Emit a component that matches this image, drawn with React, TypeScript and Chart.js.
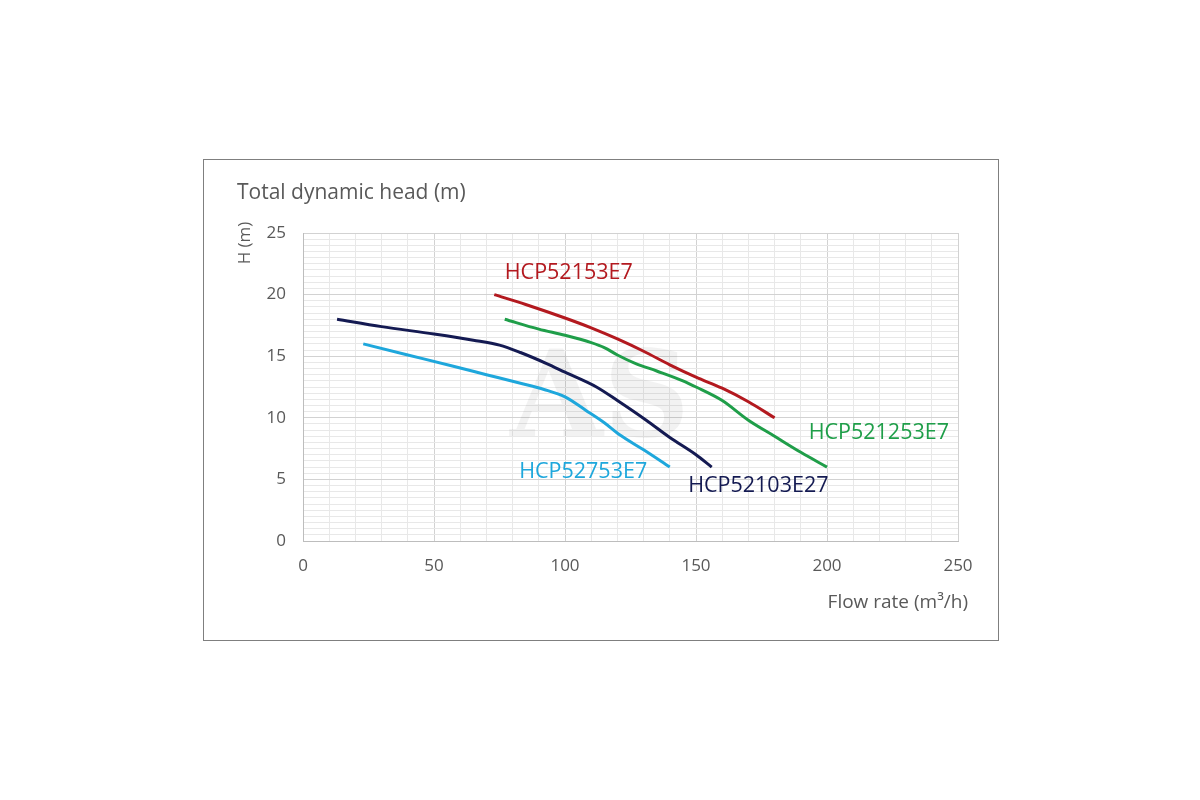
import { Chart, registerables, Plugin } from "chart.js";
import { useEffect, useRef } from "react";

Chart.register(...registerables);

// pump curves, flow (m3/h) vs head (m)
const redFlow = [73, 85, 100, 110, 120, 130, 140, 150, 160, 170, 180];
const redHead = [20, 19.2, 18.1, 17.3, 16.4, 15.4, 14.3, 13.3, 12.4, 11.3, 10];

const greenFlow = [77, 90, 100, 110, 115, 120, 127, 135, 145, 150, 160, 170, 180, 190, 200];
const greenHead = [18, 17.2, 16.7, 16.1, 15.7, 15.1, 14.4, 13.8, 13, 12.5, 11.4, 9.8, 8.5, 7.2, 6];

const navyFlow = [13, 30, 50, 65, 75, 83, 93, 100, 112, 120, 131, 140, 150, 156];
const navyHead = [18, 17.4, 16.8, 16.3, 15.9, 15.3, 14.4, 13.7, 12.5, 11.4, 9.8, 8.4, 7, 6];

const cyanFlow = [23, 40, 57, 70, 83, 92, 100, 108, 115, 121, 130, 140];
const cyanHead = [16, 15.1, 14.2, 13.5, 12.8, 12.3, 11.7, 10.6, 9.6, 8.6, 7.4, 6];

const seriesNames = ["HCP52153E7", "HCP521253E7", "HCP52103E27", "HCP52753E7"];
const seriesColors = ["#b3191f", "#1f9e49", "#141a52", "#1ea7dc"];
// where each name sits, in chart units (flow, head)
const labelFlow = [77, 193, 147, 82.5];
const labelHead = [21.8, 8.8, 4.5, 5.6];

const xTicks = [0, 50, 100, 150, 200, 250];
const yTicks = [0, 5, 10, 15, 20, 25];

const pairs = (xs: number[], ys: number[]) => xs.map((x, i) => ({ x, y: ys[i] }));

const textGray = "#595959";

const textPlugin: Plugin = {
  id: "texts",
  beforeDatasetsDraw(chart) {
    const ctx = chart.ctx;
    ctx.save();
    ctx.font = "bold 120px 'DejaVu Serif'";
    ctx.fillStyle = "rgba(0,0,0,0.05)";
    ctx.textAlign = "center";
    ctx.textBaseline = "middle";
    ctx.fillText("AS", 396, 245);
    ctx.restore();
  },
  afterDraw(chart) {
    const ctx = chart.ctx;
    const xs = chart.scales.x;
    const ys = chart.scales.y;
    ctx.save();
    ctx.fillStyle = textGray;
    ctx.textBaseline = "middle";
    ctx.font = "21px 'Open Sans'";
    ctx.textAlign = "left";
    ctx.fillText("Total dynamic head (m)", 33, 33);

    ctx.font = "19px 'Open Sans'";
    ctx.textAlign = "right";
    ctx.fillText("Flow rate (m³/h)", 764, 443);

    ctx.save();
    ctx.translate(41, 83);
    ctx.rotate(-Math.PI / 2);
    ctx.textAlign = "center";
    ctx.font = "17px 'Open Sans'";
    ctx.fillText("H (m)", 0, 0);
    ctx.restore();

    ctx.font = "21.5px 'Open Sans'";
    ctx.textAlign = "left";
    seriesNames.forEach((name, i) => {
      ctx.fillStyle = seriesColors[i];
      ctx.fillText(name, xs.getPixelForValue(labelFlow[i]), ys.getPixelForValue(labelHead[i]));
    });
    ctx.restore();
  },
};

export default function App() {
  const canvasRef = useRef<HTMLCanvasElement | null>(null);
  const chartRef = useRef<Chart | null>(null);

  useEffect(() => {
    if (!canvasRef.current) return;
    if (chartRef.current) chartRef.current.destroy();

    const line = (i: number, xs: number[], ys: number[]) => ({
      label: seriesNames[i],
      data: pairs(xs, ys),
      borderColor: seriesColors[i],
      borderWidth: 3,
      pointRadius: 0,
      cubicInterpolationMode: "monotone",
      fill: false,
    });

    chartRef.current = new Chart(canvasRef.current, {
      type: "line",
      data: {
        datasets: [
          line(0, redFlow, redHead),
          line(1, greenFlow, greenHead),
          line(2, navyFlow, navyHead),
          line(3, cyanFlow, cyanHead),
        ],
      },
      options: {
        animation: false,
        responsive: false,
        maintainAspectRatio: false,
        layout: { padding: { top: 73, right: 40, left: 0, bottom: 0 } },
        plugins: { legend: { display: false }, tooltip: { enabled: false } },
        scales: {
          x: {
            type: "linear",
            min: xTicks[0],
            max: xTicks[xTicks.length - 1],
            afterFit: (s: any) => {
              s.height = 99;
            },
            ticks: {
              stepSize: 10,
              autoSkip: false,
              maxRotation: 0,
              padding: 15,
              color: textGray,
              font: { family: "'Open Sans'", size: 17 },
              callback: (v: any) => (xTicks.includes(Number(v)) ? String(v) : ""),
            },
            grid: {
              drawTicks: false,
              color: (c: any) => (c.tick && c.tick.value % 50 === 0 ? "#d2d2d2" : "#e8e8e8"),
            },
            border: { color: "#bdbdbd" },
          },
          y: {
            type: "linear",
            min: yTicks[0],
            max: yTicks[yTicks.length - 1],
            afterFit: (s: any) => {
              s.width = 99;
            },
            ticks: {
              stepSize: 0.5,
              autoSkip: false,
              padding: 17,
              color: textGray,
              font: { family: "'Open Sans'", size: 17 },
              callback: (v: any) => (yTicks.includes(Number(v)) ? String(v) : ""),
            },
            grid: {
              drawTicks: false,
              color: (c: any) => (c.tick && c.tick.value % 5 === 0 ? "#d2d2d2" : "#e8e8e8"),
            },
            border: { color: "#bdbdbd" },
          },
        },
      },
      plugins: [textPlugin],
    } as any);

    return () => {
      if (chartRef.current) {
        chartRef.current.destroy();
        chartRef.current = null;
      }
    };
  }, []);

  return (
    <div
      style={{
        position: "fixed",
        left: 0,
        top: 0,
        width: 1200,
        height: 800,
        background: "#fff",
      }}
    >
      <div
        style={{
          position: "absolute",
          left: 203,
          top: 159,
          width: 794,
          height: 480,
          border: "1px solid #7f7f7f",
        }}
      >
        <canvas ref={canvasRef} width={794} height={480} style={{ display: "block" }} />
      </div>
    </div>
  );
}
